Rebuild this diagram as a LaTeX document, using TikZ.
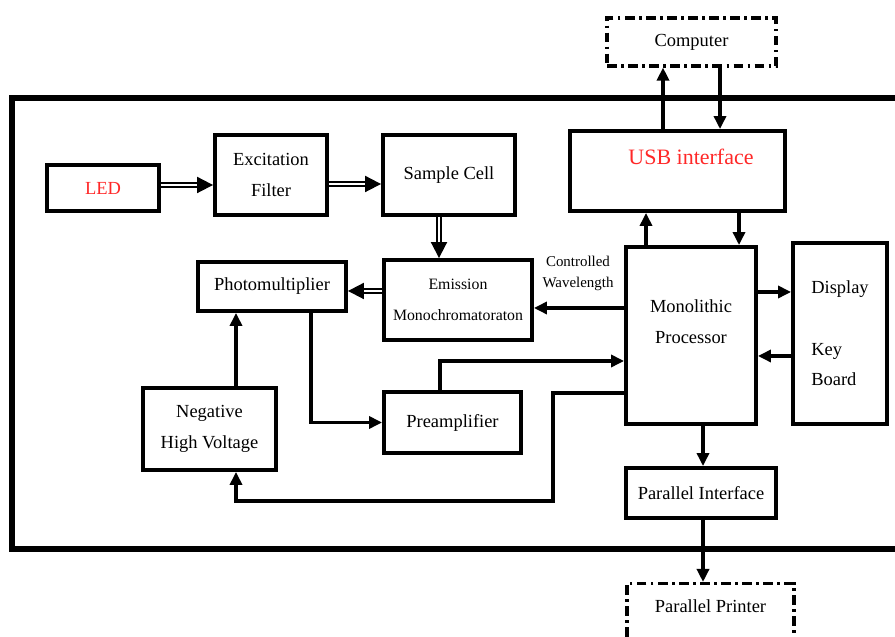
\documentclass[tikz,border=0pt]{standalone}
\usepackage{fontspec}
\setmainfont{Liberation Serif}
\usetikzlibrary{arrows.meta, positioning, calc}
\definecolor{labelred}{RGB}{255, 40, 40}

\begin{document}
\begin{tikzpicture}[
    block/.style={draw, line width=2.2pt, rectangle, font=\fontsize{10.5}{17.5}\selectfont, align=center},
    extbox/.style={draw, line width=1.8pt, rectangle, dash pattern=on 5.5pt off 2.5pt on 1.5pt off 2.5pt, font=\fontsize{10.5}{17.5}\selectfont},
    plain/.style={font=\fontsize{10.5}{17.5}\selectfont, align=center, inner sep=0pt},
    optic/.style={double, double distance=1pt, line width=1.1pt, -{Triangle[length=0.32cm, width=0.32cm]}},
    signal/.style={line width=2pt, -{Triangle[length=0.26cm, width=0.24cm]}}
]
    \useasboundingbox (0,0) rectangle (17.9,12.74);
    \clip (0,0) rectangle (17.9,12.74);

    % Instrument frame
    \draw[line width=3.4pt] (0.24,1.76) rectangle (18.3,10.78);

    % Optical blocks
    \node[block, minimum width=2.24cm, minimum height=0.92cm, text=labelred] (led) at (2.06,8.98) {LED};
    \node[block, minimum width=2.24cm, minimum height=1.6cm] (excite) at (5.42,9.24) {Excitation\\Filter};
    \node[block, minimum width=2.64cm, minimum height=1.6cm] (cell) at (8.98,9.24) {Sample Cell};
    \node[block, minimum width=2.96cm, minimum height=1.6cm, font=\fontsize{9}{17.5}\selectfont] (emission) at (9.16,6.74) {Emission\\Monochromatoraton};
    \node[block, minimum width=2.96cm, minimum height=0.98cm] (pmt) at (5.44,7.01) {Photomultiplier};
    \node[block, minimum width=2.66cm, minimum height=1.64cm] (hv) at (4.19,4.16) {Negative\\High Voltage};
    \node[block, minimum width=2.74cm, minimum height=1.22cm] (preamp) at (9.05,4.29) {Preamplifier};

    % Control blocks
    \node[block, minimum width=2.6cm, minimum height=3.54cm] (proc) at (13.82,6.03) {};
    \node[plain] (proctext) at (13.82,6.3) {Monolithic\\Processor};
    \node[block, minimum width=4.3cm, minimum height=1.6cm] (usb) at (13.55,9.32) {};
    \node[plain, text=labelred, font=\fontsize{12.5}{15}\selectfont] (usbtext) at (13.82,9.6) {USB interface};
    \node[block, minimum width=1.88cm, minimum height=3.62cm, align=left] (disp) at (16.8,6.07) {Display\\[17.5pt]Key\\Board};
    \node[block, minimum width=3.0cm, minimum height=1.0cm] (parif) at (14.02,2.88) {Parallel Interface};

    % External devices
    \node[extbox, minimum width=3.38cm, minimum height=0.96cm] (pc) at (13.83,11.9) {Computer};
    \node[extbox, minimum width=3.34cm, minimum height=1.3cm, anchor=north] (printer) at (14.21,1.1) {};
    \node[plain] (printertext) at (14.21,0.62) {Parallel Printer};

    % Light path
    \draw[optic] (led.east |- 0,9.04) -- (excite.west |- 0,9.04);
    \draw[optic] (excite.east |- 0,9.06) -- (cell.west |- 0,9.06);
    \draw[optic] (cell.south -| 8.78,0) -- (emission.north -| 8.78,0);
    \draw[optic] (emission.west |- 0,6.92) -- (pmt.east |- 0,6.92);

    % Signal and control lines
    \draw[signal] (proc.west |- 0,6.58) -- (emission.east |- 0,6.58);
    \node[plain, font=\fontsize{8.5}{12}\selectfont] (wavelbl) at (11.56,7.28) {Controlled\\Wavelength};
    \draw[signal] (hv.north -| 4.72,0) -- (pmt.south -| 4.72,0);
    \draw[signal] (pmt.south -| 6.22,0) |- (preamp.west);
    \draw[signal] (preamp.north -| 8.8,0) |- (proc.west |- 0,5.52);
    \draw[signal] (proc.west |- 0,4.88) -| (11.06,2.72) -| (hv.south -| 4.72,0);
    \draw[signal] (proc.east |- 0,6.9) -- (disp.west |- 0,6.9);
    \draw[signal] (disp.west |- 0,5.62) -- (proc.east |- 0,5.62);
    \draw[signal] (proc.north -| 12.92,0) -- (usb.south -| 12.92,0);
    \draw[signal] (usb.south -| 14.78,0) -- (proc.north -| 14.78,0);
    \draw[signal] (usb.north -| 13.26,0) -- (pc.south -| 13.26,0);
    \draw[signal] (pc.south -| 14.4,0) -- (usb.north -| 14.4,0);
    \draw[signal] (proc.south -| 14.06,0) -- (parif.north -| 14.06,0);
    \draw[signal] (parif.south -| 14.06,0) -- (printer.north -| 14.06,0);
\end{tikzpicture}
\end{document}
